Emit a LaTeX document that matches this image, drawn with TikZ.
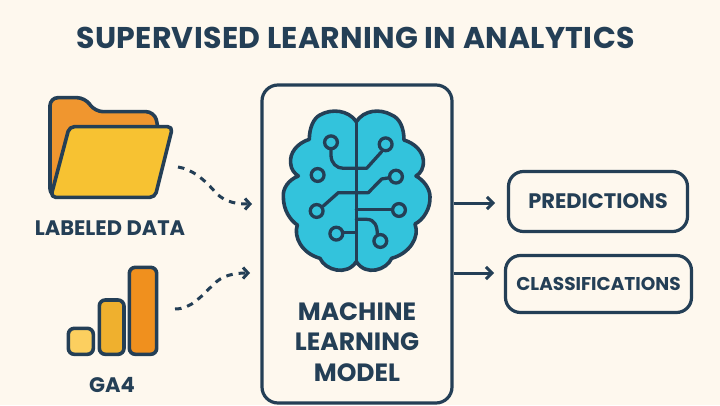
\documentclass[tikz,border=0pt]{standalone}
\usepackage{fontspec}
\setmainfont{Poppins}
\newfontfamily\ttl[LetterSpace=1.0]{Poppins}
\usetikzlibrary{arrows.meta}
\definecolor{ink}{HTML}{243F56}
\definecolor{paper}{HTML}{FEF8EE}
\definecolor{brainc}{HTML}{33C3DC}
\definecolor{orangec}{HTML}{F0962F}
\definecolor{yellowc}{HTML}{F7C232}
\definecolor{barone}{HTML}{FCCF5F}
\definecolor{bartwo}{HTML}{EFB02E}
\definecolor{barthree}{HTML}{F0901E}
\tikzset{
  x=1pt,y=1pt,
  outline/.style={draw=ink,line width=3.6pt,line join=round,line cap=round},
  bar/.style={draw=ink,line width=3.6pt,rounded corners=6pt},
  wire/.style={draw=ink,line width=3.3pt,line cap=round,line join=round},
  pad/.style={draw=ink,line width=3.3pt,fill=brainc},
  result/.style={draw=ink,line width=3.2pt,rounded corners=15pt,inner sep=0pt,text=ink},
  label/.style={text=ink,inner sep=0pt},
  flow/.style={draw=ink,line width=3pt,-{Straight Barb[length=6pt,width=12pt,line width=3pt]}},
  dash flow/.style={draw=ink,line width=3pt,dash pattern=on 6.5pt off 6pt,-{Straight Barb[length=5pt,width=11pt,line width=3pt]}}
}
\begin{document}
\begin{tikzpicture}
\useasboundingbox (0,0) rectangle (720,405);
\fill[paper] (0,0) rectangle (720,405);
\node[label,font=\fontsize{30}{30}\selectfont\bfseries\ttl] (title) at (355.5,367) {SUPERVISED LEARNING IN ANALYTICS};
% folder
\begin{scope}[shift={(30,320)},x=0.3333pt,y=-0.3333pt]
\draw[outline,fill=orangec,rounded corners=8pt] (60,335) -- (60,38) -- (165,38) -- (195,80) -- (372,80) -- (385,125) -- (375,335) -- cycle;
\draw[outline,fill=yellowc,rounded corners=5pt] (118,125) -- (428,125) -- (375,337) -- (62,337) -- cycle;
\end{scope}
\node[label,font=\fontsize{21}{21}\selectfont\bfseries] (lab) at (110,177) {LABELED DATA};
% bars
\begin{scope}[shift={(50,155)},x=0.3333pt,y=-0.3333pt]
\draw[bar,fill=barone] (55,235) rectangle (130,313);
\draw[bar,fill=bartwo] (148,150) rectangle (222,313);
\draw[bar,fill=barthree] (238,52) rectangle (320,313);
\end{scope}
\node[label,font=\fontsize{21}{21}\selectfont\bfseries] (ga) at (112,20) {GA4};
% model box
\node[draw=ink,line width=3.2pt,rounded corners=16pt,minimum width=190pt,minimum height=318pt,inner sep=0pt] (box) at (357,161) {};
% brain
\begin{scope}[shift={(260,325)},x=0.3333pt,y=-0.3333pt]
\draw[outline,fill=brainc]
 (289,125) .. controls (265,90) and (215,85) .. (180,105) .. controls (160,115) and (148,145) .. (148,178)
 .. controls (110,190) and (88,220) .. (92,250) .. controls (93,268) and (103,280) .. (115,288)
 .. controls (85,300) and (68,325) .. (70,350) .. controls (70,390) and (90,420) .. (112,435)
 .. controls (100,470) and (125,520) .. (180,535) .. controls (195,570) and (260,590) .. (289,545)
 .. controls (318,590) and (380,570) .. (395,535) .. controls (450,520) and (480,470) .. (465,432)
 .. controls (490,420) and (512,385) .. (510,350) .. controls (510,325) and (490,300) .. (468,288)
 .. controls (482,280) and (492,265) .. (490,240) .. controls (488,215) and (465,190) .. (432,180)
 .. controls (432,145) and (420,115) .. (395,105) .. controls (360,85) and (312,90) .. (289,125) -- cycle;
\draw[wire] (289,125) -- (289,545);
\draw[wire] (213,207) -- (213,225) .. controls (213,250) and (230,265) .. (250,265) -- (320,265) -- (365,215);
\draw[wire] (390,293) -- (365,297) -- (325,338) -- (235,338) -- (190,378);
\draw[wire] (289,388) -- (397,388);
\draw[wire] (289,418) -- (320,418) .. controls (345,418) and (352,440) .. (352,463);
\draw[wire] (250,458) -- (289,458);
\foreach \cx/\cy in {213/187,377/193,173/285,408/290,170/393,417/390,361/483,229/461}
  \draw[pad] (\cx,\cy) circle (6.4pt);
\end{scope}
\node[label,align=center,font=\fontsize{25}{30.5}\selectfont\bfseries] (model) at (357,63) {MACHINE\\LEARNING\\MODEL};
% results
\node[result,font=\fontsize{21}{21}\selectfont\bfseries,minimum width=179pt,minimum height=60pt] (pred) at (598,203.5) {PREDICTIONS};
\node[result,font=\fontsize{18.5}{18.5}\selectfont\bfseries,minimum width=186pt,minimum height=57pt] (clas) at (598.5,121) {CLASSIFICATIONS};
% connectors
\coordinate (tipa) at (495,202);
\coordinate (tipb) at (494,132);
\draw[flow] (box.east |- tipa) -- (tipa);
\draw[flow] (box.east |- tipb) -- (tipb);
\coordinate (fa) at (178,238);
\coordinate (ta) at (252,201);
\coordinate (fb) at (175,96);
\coordinate (tb) at (250,132);
\draw[dash flow] (fa) .. controls (192,236) and (205,225) .. (216,212) .. controls (226,202) and (238,201) .. (ta);
\draw[dash flow] (fb) .. controls (192,96) and (202,110) .. (213,120) .. controls (222,130) and (235,132) .. (tb);
\end{tikzpicture}
\end{document}
